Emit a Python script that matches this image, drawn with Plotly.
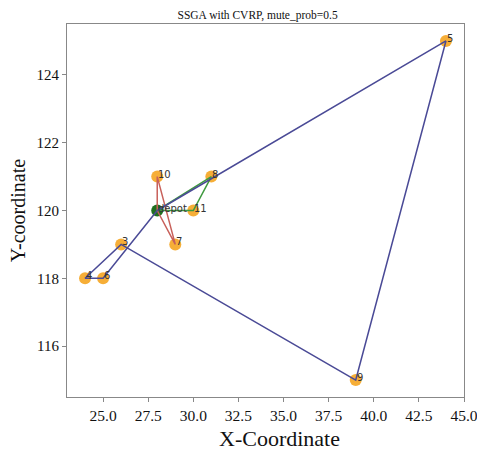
import plotly.graph_objects as go

# node data
node_labels = ["depot", "3", "4", "5", "6", "7", "8", "9", "10", "11"]
node_x = [28, 26, 24, 44, 25, 29, 31, 39, 28, 30]
node_y = [120, 119, 118, 125, 118, 119, 121, 115, 121, 120]

# routes (sequences of node labels)
route_blue = ["depot", "5", "9", "3", "4", "6", "depot"]
route_green = ["depot", "11", "8", "depot"]
route_red = ["depot", "10", "7", "depot"]

x_ticks = [25.0, 27.5, 30.0, 32.5, 35.0, 37.5, 40.0, 42.5, 45.0]
y_ticks = [116, 118, 120, 122, 124]

pos = {l: (x, y) for l, x, y in zip(node_labels, node_x, node_y)}

fig = go.Figure()

# customer nodes
cust = [l for l in node_labels if l != "depot"]
fig.add_trace(go.Scatter(
    x=[pos[l][0] for l in cust], y=[pos[l][1] for l in cust],
    mode="markers", marker=dict(size=12, color="rgba(245,160,20,0.85)"),
    showlegend=False, hoverinfo="skip", cliponaxis=False))
fig.add_trace(go.Scatter(
    x=[pos["depot"][0]], y=[pos["depot"][1]],
    mode="markers", marker=dict(size=12, color="#1f6e1f"),
    showlegend=False, hoverinfo="skip"))

for route, color in [(route_green, "#3f9a3f"), (route_red, "#c8605a"), (route_blue, "#4a4a96")]:
    fig.add_trace(go.Scatter(
        x=[pos[l][0] for l in route], y=[pos[l][1] for l in route],
        mode="lines", line=dict(color=color, width=1.5),
        showlegend=False, hoverinfo="skip"))

for l in node_labels:
    fig.add_annotation(x=pos[l][0], y=pos[l][1], text=l, showarrow=False,
                       xanchor="left", yanchor="bottom", yshift=-5, xshift=-1,
                       font=dict(family="DejaVu Sans", size=10, color="#333333"))

fig.add_annotation(x=0.535, y=0, xref="paper", yref="paper", text="X-Coordinate",
                   showarrow=False, xanchor="center", yanchor="middle", yshift=-41,
                   font=dict(family="Liberation Serif", size=22, color="#111111"))

axis_common = dict(showgrid=False, zeroline=False, showline=True, mirror=True,
                   linecolor="#888888", linewidth=1, ticks="outside", ticklen=4,
                   tickcolor="#888888", automargin=False, ticklabeloverflow="allow")

fig.update_layout(
    width=477, height=450,
    margin=dict(l=67, r=13, t=24, b=53),
    plot_bgcolor="white", paper_bgcolor="white",
    title=dict(text="SSGA with CVRP, mute_prob=0.5", x=0.54, xanchor="center",
               y=0.967, yanchor="middle",
               font=dict(family="Liberation Serif", size=11.5, color="#111111")),
    xaxis=dict(range=[23, 45.0001], tickvals=x_ticks, ticktext=[f"{v:.1f}" for v in x_ticks],
               tickfont=dict(family="Liberation Serif", size=15.5, color="#111111"),
               **axis_common),
    yaxis=dict(range=[114.5, 125.5], tickvals=y_ticks, ticktext=[str(v) for v in y_ticks],
               tickfont=dict(family="Liberation Serif", size=15, color="#111111"),
               title=dict(text="Y-coordinate", standoff=5,
                          font=dict(family="Liberation Serif", size=20, color="#111111")),
               **axis_common),
)

fig.write_html("out.html", config={"displayModeBar": False},
               post_script="document.body.style.margin='0';document.body.style.overflow='hidden';")
